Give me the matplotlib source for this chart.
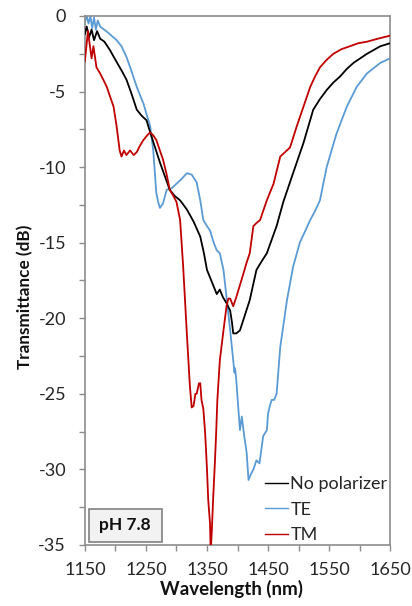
import matplotlib
matplotlib.use("Agg")
import matplotlib.pyplot as plt
from matplotlib.ticker import MultipleLocator
from matplotlib.patches import Rectangle

plt.rcParams['font.family'] = ['Lato', 'DejaVu Sans']
plt.rcParams['axes.unicode_minus'] = False

# No polarizer
wl_np = [1150, 1153, 1157, 1161, 1165, 1170, 1175, 1182, 1191, 1200, 1210, 1218, 1226, 1235,
         1243, 1251, 1257, 1265, 1273, 1281, 1289, 1297, 1306, 1317, 1328, 1339, 1345, 1350,
         1358, 1366, 1371, 1376, 1382, 1388, 1391, 1393, 1398, 1404, 1412, 1420, 1431, 1440,
         1448, 1456, 1464, 1475, 1491, 1508, 1524, 1535, 1546, 1557, 1568, 1579, 1590, 1601,
         1612, 1623, 1634, 1642, 1650]
t_np = [-1.2, -0.7, -1.4, -0.9, -1.6, -1.0, -1.5, -1.7, -2.25, -2.9, -3.6, -4.2, -5.1, -6.2,
        -6.6, -6.9, -7.7, -8.7, -9.7, -10.6, -11.5, -11.9, -12.2, -12.8, -13.6, -14.6, -15.7, -16.8,
        -17.6, -18.4, -18.1, -18.6, -19.0, -19.5, -20.3, -21.0, -21.0, -20.8, -19.8, -18.8, -16.8, -16.2,
        -15.7, -14.8, -13.9, -12.3, -10.4, -8.4, -6.2, -5.5, -4.9, -4.4, -4.0, -3.5, -3.1, -2.8,
        -2.5, -2.25, -2.0, -1.9, -1.8]

# TE polarization
wl_te = [1150, 1153, 1156, 1159, 1162, 1165, 1168, 1171, 1175, 1188, 1202, 1210, 1218, 1226,
         1235, 1246, 1251, 1257, 1262, 1265, 1267, 1270, 1273, 1278, 1284, 1292, 1300, 1308,
         1317, 1325, 1333, 1339, 1344, 1350, 1355, 1361, 1366, 1371, 1377, 1382, 1388, 1393,
         1395, 1396, 1398, 1401, 1404, 1407, 1411, 1415, 1418, 1422, 1426, 1431, 1436, 1442,
         1448, 1450, 1453, 1456, 1460, 1464, 1470, 1481, 1491, 1502, 1510, 1519, 1527, 1535,
         1546, 1562, 1579, 1595, 1612, 1634, 1650]
t_te = [-0.4, 0.0, -0.5, 0.0, -0.8, -0.1, -0.9, -0.3, -0.7, -1.1, -1.6, -2.0, -2.7, -3.6,
        -4.7, -5.8, -6.5, -7.3, -8.9, -10.6, -11.7, -12.3, -12.7, -12.4, -11.5, -11.4, -11.1, -10.8,
        -10.4, -10.5, -11.0, -12.2, -13.5, -13.9, -14.2, -15.0, -15.5, -15.7, -16.8, -18.6, -20.8, -22.8,
        -23.6, -23.3, -24.1, -25.8, -27.4, -26.5, -27.8, -28.9, -30.7, -30.3, -30.0, -29.4, -29.6, -27.8,
        -27.4, -26.3, -25.8, -25.4, -25.4, -25.0, -21.9, -18.8, -16.6, -15.0, -14.3, -13.5, -12.9, -12.2,
        -10.0, -7.8, -6.0, -4.7, -3.8, -3.1, -2.8]

# TM polarization
wl_tm = [1150, 1152, 1155, 1158, 1161, 1164, 1169, 1175, 1180, 1186, 1191, 1197, 1202, 1207,
         1210, 1214, 1218, 1224, 1230, 1235, 1240, 1246, 1252, 1257, 1262, 1267, 1272, 1278,
         1284, 1289, 1295, 1300, 1306, 1311, 1317, 1322, 1325, 1328, 1331, 1333, 1337, 1339,
         1341, 1344, 1347, 1350, 1352, 1355, 1356, 1358, 1360, 1363, 1365, 1367, 1371, 1377,
         1382, 1385, 1388, 1393, 1398, 1404, 1410, 1415, 1420, 1426, 1431, 1437, 1442, 1448,
         1459, 1470, 1478, 1486, 1497, 1508, 1519, 1527, 1535, 1546, 1557, 1570, 1584, 1598,
         1612, 1630, 1650]
t_tm = [-3.0, -2.2, -1.0, -1.9, -2.8, -2.0, -3.4, -3.8, -4.2, -4.7, -5.3, -6.0, -7.3, -8.9,
        -9.3, -8.9, -9.2, -8.9, -9.2, -9.0, -8.6, -8.2, -7.9, -7.7, -7.9, -8.2, -8.8, -9.5,
        -10.5, -11.5, -11.9, -12.3, -13.5, -16.6, -21.0, -24.5, -25.9, -25.8, -25.0, -25.0, -24.3, -24.3,
        -25.4, -26.0, -27.6, -30.0, -32.0, -33.6, -35.5, -34.0, -32.0, -29.5, -27.6, -25.4, -22.8, -20.8,
        -19.2, -18.7, -18.7, -19.2, -18.6, -17.8, -17.0, -16.3, -15.7, -13.9, -13.7, -13.5, -12.9, -12.2,
        -11.1, -9.3, -9.0, -8.7, -7.3, -6.0, -4.7, -4.0, -3.4, -2.9, -2.5, -2.2, -2.0, -1.8,
        -1.7, -1.5, -1.3]

x_ticks = [1150, 1250, 1350, 1450, 1550, 1650]
y_ticks = [0, -5, -10, -15, -20, -25, -30, -35]

fig = plt.figure(figsize=(4.12, 6.06), dpi=100)
ax = fig.add_axes([0.206, 0.1007, 0.741, 0.8729])

ax.plot(wl_np, t_np, color='black', lw=1.3, label='No polarizer', zorder=3)
ax.plot(wl_te, t_te, color='#5B9BD5', lw=1.3, label='TE', zorder=2)
ax.plot(wl_tm, t_tm, color='#C00000', lw=1.3, label='TM', zorder=4)

ax.set_xlim(1150, 1650)
ax.set_ylim(-35, 0)
ax.set_xticks(x_ticks)
ax.set_yticks(y_ticks)
ax.xaxis.set_minor_locator(MultipleLocator(50))
ax.yaxis.set_minor_locator(MultipleLocator(2.5))
ax.tick_params(axis='both', which='both', direction='out', length=4.5, width=1,
               color='#8c8c8c', labelsize=13, labelcolor='#262626')
ax.tick_params(axis='x', which='major', pad=8)
ax.tick_params(axis='y', which='major', pad=9)

for s in ax.spines.values():
    s.set_color('#8c8c8c')
    s.set_linewidth(1.2)

ax.set_xlabel('Wavelength (nm)', fontsize=13.5, fontweight='bold', color='#111111')
ax.set_ylabel('Transmittance (dB)', fontsize=12.3, fontweight='bold', color='#111111')
ax.xaxis.set_label_coords(0.479, -0.066)
ax.yaxis.set_label_coords(-0.168, 0.47)

leg = ax.legend(loc='lower right', frameon=False, fontsize=13, handlelength=1.25,
                handletextpad=0.15, labelspacing=0.52, borderaxespad=0.0,
                bbox_to_anchor=(1.015, -0.01))
for t in leg.get_texts():
    t.set_color('#262626')
for h in leg.get_lines():
    h.set_linewidth(1.0)

# sample label box in the lower-left corner
ax.add_patch(Rectangle((0.013, 0.006), 0.239, 0.062, transform=ax.transAxes,
                       facecolor='#f2f2f2', edgecolor='#808080', lw=1.2, zorder=5))
ax.text(0.131, 0.037, 'pH 7.8', transform=ax.transAxes, fontsize=12.5, fontweight='bold',
        ha='center', va='center', color='#111111', zorder=6)

fig.savefig('out.png', dpi=100)
